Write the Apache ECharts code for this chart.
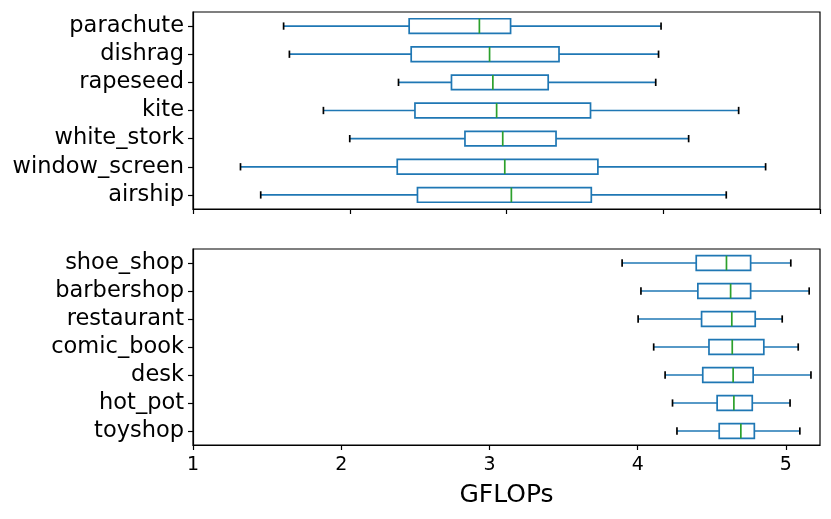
<!DOCTYPE html>
<html>
<head>
<meta charset="utf-8">
<script src="https://cdn.jsdelivr.net/npm/echarts@6/dist/echarts.min.js"></script>
<style>
html,body{margin:0;padding:0;background:#fff;}
#chart{width:831px;height:519px;}
</style>
</head>
<body>
<div id="chart"></div>
<script>
// Top panel (own scale, tick labels not shown in the reference)
const topCategories = ['parachute','dishrag','rapeseed','kite','white_stork','window_screen','airship'];
const topWhiskerLow = [0.578, 0.615, 1.311, 0.832, 1.000, 0.303, 0.432];
const topQ1         = [1.379, 1.392, 1.649, 1.416, 1.735, 1.303, 1.432];
const topMedian     = [1.827, 1.892, 1.913, 1.937, 1.976, 1.989, 2.031];
const topQ3         = [2.026, 2.335, 2.266, 2.536, 2.316, 2.583, 2.541];
const topWhiskerHigh= [2.986, 2.970, 2.952, 3.481, 3.162, 3.653, 3.402];
const topTicks = [0, 1, 2, 3, 4];

// Bottom panel (GFLOPs)
const botCategories = ['shoe_shop','barbershop','restaurant','comic_book','desk','hot_pot','toyshop'];
const botWhiskerLow = [3.895, 4.022, 4.003, 4.108, 4.185, 4.235, 4.265];
const botQ1         = [4.395, 4.406, 4.431, 4.481, 4.439, 4.536, 4.550];
const botMedian     = [4.599, 4.627, 4.635, 4.638, 4.644, 4.649, 4.696];
const botQ3         = [4.762, 4.762, 4.793, 4.851, 4.779, 4.773, 4.787];
const botWhiskerHigh= [5.033, 5.157, 4.975, 5.083, 5.169, 5.028, 5.094];
const botTicks = ['1','2','3','4','5'];

const FONT = 'DejaVu Sans';
const BLUE = '#1f77b4', GREEN = '#2ca02c', BLACK = '#000000';
const LW = 1.7;

function rows(cats, wl, q1, md, q3, wh) {
  return cats.map((c, i) => [i, wl[i], q1[i], md[i], q3[i], wh[i]]);
}

function renderBox(params, api) {
  const ci = api.value(0);
  const wl = api.coord([api.value(1), ci]);
  const q1 = api.coord([api.value(2), ci]);
  const md = api.coord([api.value(3), ci]);
  const q3 = api.coord([api.value(4), ci]);
  const wh = api.coord([api.value(5), ci]);
  const band = api.size([0, 1])[1];
  const bh = band * 0.52;
  const ch = bh * 0.5;
  const y = q1[1];
  const line = (x1, y1, x2, y2, color) => ({
    type: 'line',
    shape: {x1, y1, x2, y2},
    style: {stroke: color, lineWidth: LW}
  });
  return {
    type: 'group',
    children: [
      line(wl[0], y, q1[0], y, BLUE),
      line(q3[0], y, wh[0], y, BLUE),
      line(wl[0], y - ch / 2, wl[0], y + ch / 2, BLACK),
      line(wh[0], y - ch / 2, wh[0], y + ch / 2, BLACK),
      {type: 'rect', shape: {x: q1[0], y: y - bh / 2, width: q3[0] - q1[0], height: bh},
       style: {fill: '#ffffff', stroke: BLUE, lineWidth: LW}},
      line(md[0], y - bh / 2, md[0], y + bh / 2, GREEN)
    ]
  };
}

const chart = echarts.init(document.getElementById('chart'), null, {renderer: 'canvas'});

const yAxisCommon = {
  type: 'category',
  inverse: true,
  axisLine: {show: true, lineStyle: {color: BLACK, width: 1.2}},
  axisTick: {show: true, alignWithLabel: true, length: 5, lineStyle: {color: BLACK, width: 1.2}},
  axisLabel: {color: BLACK, fontSize: 22.5, fontFamily: FONT, margin: 9, interval: 0},
  splitLine: {show: false}
};

chart.setOption({
  animation: false,
  backgroundColor: '#ffffff',
  grid: [
    {left: 193, right: 11, top: 12, height: 197, show: true, borderColor: BLACK, borderWidth: 1.2, backgroundColor: 'transparent'},
    {left: 193, right: 11, top: 249, height: 196, show: true, borderColor: BLACK, borderWidth: 1.2, backgroundColor: 'transparent'}
  ],
  xAxis: [
    {
      gridIndex: 0, type: 'value', min: topTicks[0], max: topTicks[topTicks.length - 1], interval: 1,
      axisLine: {show: true, onZero: false, lineStyle: {color: BLACK, width: 1.2}},
      axisTick: {show: true, length: 5, lineStyle: {color: BLACK, width: 1.2}},
      axisLabel: {show: false},
      splitLine: {show: false}
    },
    {
      gridIndex: 1, type: 'value', min: Number(botTicks[0]), max: 5.23, interval: 1,
      axisLine: {show: true, onZero: false, lineStyle: {color: BLACK, width: 1.2}},
      axisTick: {show: true, length: 5, lineStyle: {color: BLACK, width: 1.2}},
      axisLabel: {color: BLACK, fontSize: 19, fontFamily: FONT, margin: 11, showMaxLabel: false,
                  formatter: v => botTicks.includes(String(v)) ? String(v) : ''},
      splitLine: {show: false},
      name: 'GFLOPs', nameLocation: 'middle', nameGap: 38,
      nameTextStyle: {color: BLACK, fontSize: 25, fontFamily: FONT}
    }
  ],
  yAxis: [
    Object.assign({gridIndex: 0, data: topCategories}, yAxisCommon),
    Object.assign({gridIndex: 1, data: botCategories}, yAxisCommon)
  ],
  series: [
    {
      type: 'custom', xAxisIndex: 0, yAxisIndex: 0,
      renderItem: renderBox,
      encode: {x: [1, 2, 3, 4, 5], y: 0},
      data: rows(topCategories, topWhiskerLow, topQ1, topMedian, topQ3, topWhiskerHigh)
    },
    {
      type: 'custom', xAxisIndex: 1, yAxisIndex: 1,
      renderItem: renderBox,
      encode: {x: [1, 2, 3, 4, 5], y: 0},
      data: rows(botCategories, botWhiskerLow, botQ1, botMedian, botQ3, botWhiskerHigh)
    }
  ]
});
</script>
</body>
</html>
